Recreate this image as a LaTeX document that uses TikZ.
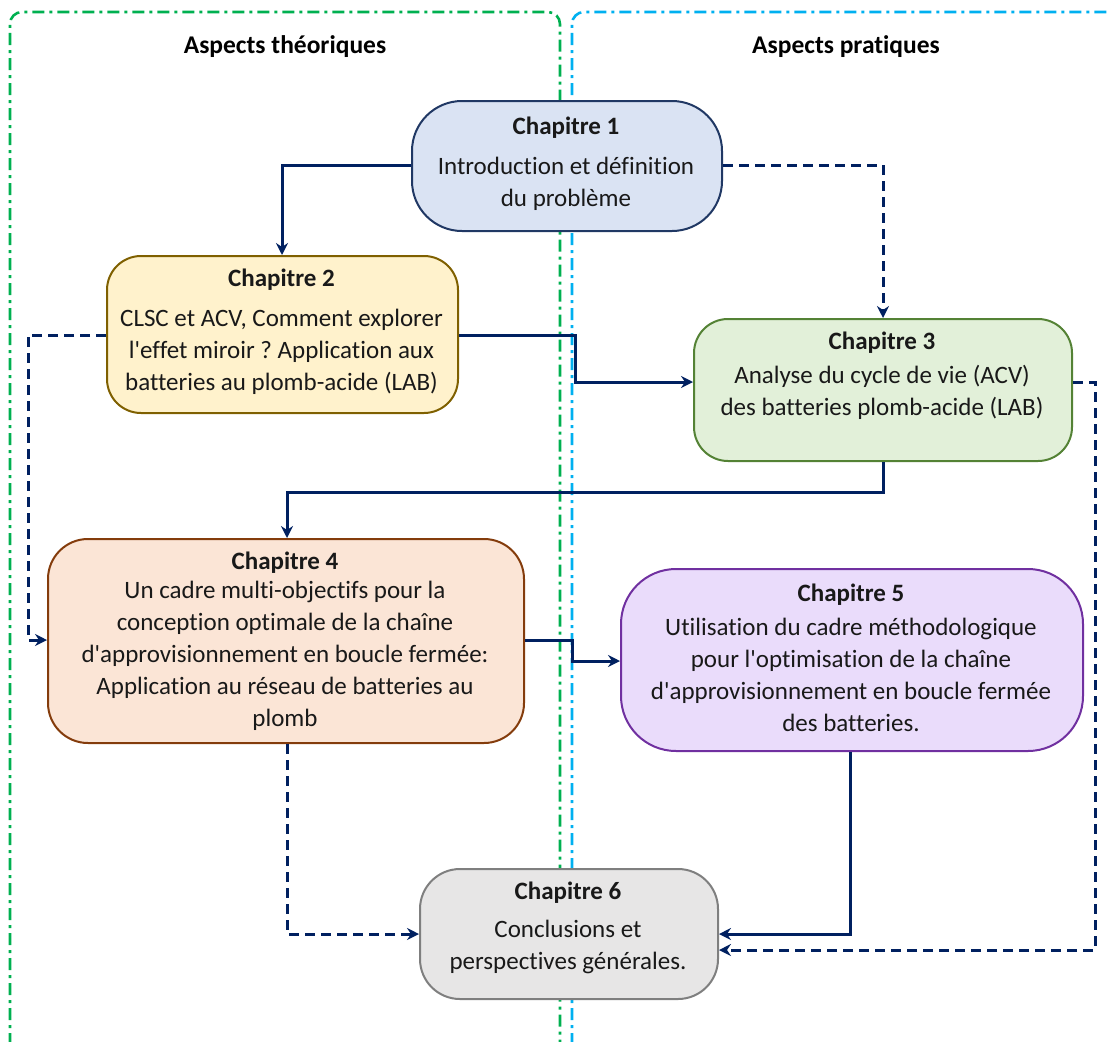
\documentclass[tikz,border=0pt]{standalone}
\usepackage{fontspec}
\setmainfont{Carlito}[Ligatures={TeXOff,NoCommon}]
\usetikzlibrary{arrows.meta}
\frenchspacing
\definecolor{navy}{HTML}{002060}
\definecolor{frgreen}{HTML}{00B050}
\definecolor{frblue}{HTML}{00B0F0}
\definecolor{f1}{HTML}{DAE3F3}\definecolor{d1}{HTML}{203864}
\definecolor{f2}{HTML}{FFF2CC}\definecolor{d2}{HTML}{7F6000}
\definecolor{f3}{HTML}{E2F0D9}\definecolor{d3}{HTML}{548235}
\definecolor{f4}{HTML}{FBE5D6}\definecolor{d4}{HTML}{843C0C}
\definecolor{f5}{HTML}{EADCFB}\definecolor{d5}{HTML}{7030A0}
\definecolor{f6}{HTML}{E7E6E6}\definecolor{d6}{HTML}{7F7F7F}
\begin{document}
\begin{tikzpicture}[x=1pt,y=-1pt,
  chbox/.style={draw, line width=2pt, inner sep=0pt, anchor=north west},
  chtext/.style={align=center, inner sep=0pt, font=\fontsize{25}{32}\selectfont, text=black!90},
  frame/.style={line width=2.6pt, dash pattern=on 12pt off 5pt on 3pt off 5pt, rounded corners=12pt},
  conn/.style={navy, line width=3pt, -{Stealth[length=12pt,width=12pt,inset=4pt]}},
  dconn/.style={conn, dash pattern=on 10pt off 6pt},
  ttl/.style={font=\fontsize{25.5}{30}\selectfont\bfseries, inner sep=0pt}]
\useasboundingbox (0,0) rectangle (1110,1041);
% frames
\draw[frame, frgreen] (10,1045) -- (10,12) -- (560,12) -- (560,1045);
\draw[frame, frblue] (572,1045) -- (572,12) -- (1130,12);
\node[ttl] (tth) at (285,47) {Aspects théoriques};
\node[ttl] (tpr) at (846,47) {Aspects pratiques};
% boxes
\node[chbox, fill=f1, draw=d1, rounded corners=50pt, minimum width=310pt, minimum height=130pt] (c1) at (411,100) {};
\node[chbox, fill=f2, draw=d2, rounded corners=34pt, minimum width=351pt, minimum height=157pt] (c2) at (106,255) {};
\node[chbox, fill=f3, draw=d3, rounded corners=34pt, minimum width=378pt, minimum height=142pt] (c3) at (693,318) {};
\node[chbox, fill=f4, draw=d4, rounded corners=40pt, minimum width=476pt, minimum height=204pt] (c4) at (47,538) {};
\node[chbox, fill=f5, draw=d5, rounded corners=55pt, minimum width=462pt, minimum height=182pt] (c5) at (620,568) {};
\node[chbox, fill=f6, draw=d6, rounded corners=40pt, minimum width=298pt, minimum height=130pt] (c6) at (419,868) {};
% texts
\node[chtext] (t1) at (566,164) {\textbf{Chapitre 1}\\[8pt]Introduction et définition\\du problème};
\node[chtext] (t2) at (281.5,332) {\textbf{Chapitre 2}\\[8pt]CLSC et ACV, Comment explorer\\l'effet miroir ? Application aux\\batteries au plomb-acide (LAB)};
\node[chtext] (t3) at (882,376) {\textbf{Chapitre 3}\\[2pt]Analyse du cycle de vie (ACV)\\des batteries plomb-acide (LAB)};
\node[chtext] (t4) at (285,641) {\textbf{Chapitre 4}\\[-3pt]Un cadre multi-objectifs pour la\\conception optimale de la chaîne\\d'approvisionnement en boucle fermée:\\Application au réseau de batteries au\\plomb};
\node[chtext] (t5) at (851,657.5) {\textbf{Chapitre 5}\\[2pt]Utilisation du cadre méthodologique\\pour l'optimisation de la chaîne\\d'approvisionnement en boucle fermée\\des batteries.};
\node[chtext] (t6) at (568,928) {\textbf{Chapitre 6}\\[6pt]Conclusions et\\perspectives générales.};
% connectors
\draw[conn] (c1.west |- 0,165) -| (c2.north -| 282,0);
\draw[dconn] (c1.east |- 0,165) -| (c3.north -| 883,0);
\draw[conn] (c2.east |- 0,335) -- (575,335) |- (c3.west |- 0,382);
\draw[dconn] (c2.west |- 0,335) -- (28,335) |- (c4.west |- 0,640);
\draw[conn] (c3.south -| 883,0) -- (883,492) -| (c4.north -| 287,0);
\draw[dconn] (c3.east |- 0,382) -- (1095,382) |- (c6.east |- 0,950);
\draw[conn] (c4.east |- 0,640) -- (572,640) |- (c5.west |- 0,661);
\draw[dconn] (c4.south -| 287,0) |- (c6.west |- 0,934);
\draw[conn] (c5.south -| 850,0) |- (c6.east |- 0,934);
\end{tikzpicture}
\end{document}
